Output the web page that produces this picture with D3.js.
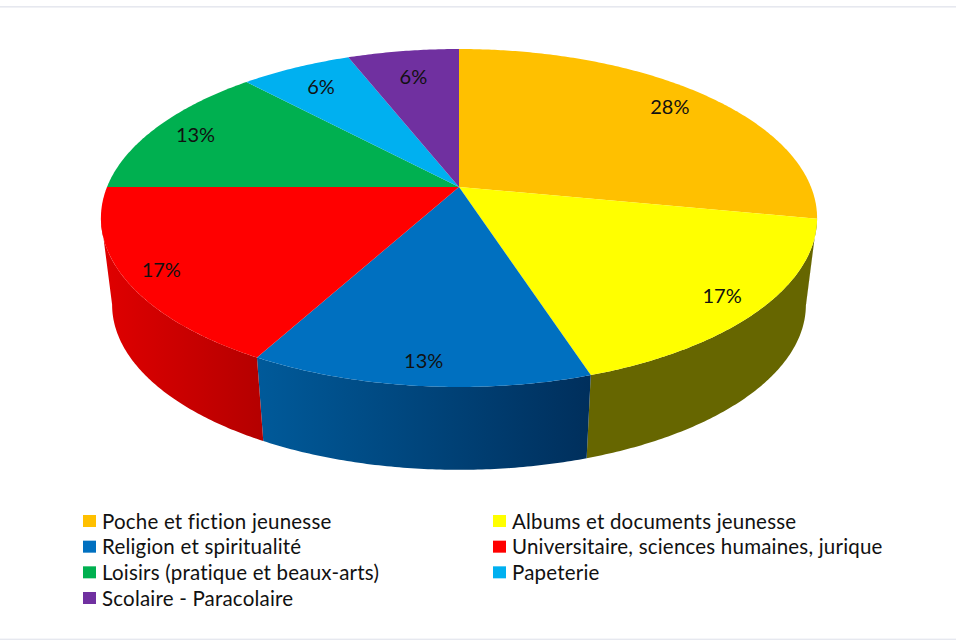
<!DOCTYPE html>
<html><head><meta charset="utf-8">
<script src="https://cdn.jsdelivr.net/npm/d3@7"></script>
<style>html,body{margin:0;padding:0;background:#fff;overflow:hidden}svg{display:block}text{font-family:Lato,"Open Sans",sans-serif;fill:#111;font-variant-ligatures:none}</style>
</head><body><svg id="c" width="956" height="640"></svg>
<script>
const categories=["Poche et fiction jeunesse","Albums et documents jeunesse","Religion et spiritualité","Universitaire, sciences humaines, jurique","Loisirs (pratique et beaux-arts)","Papeterie","Scolaire - Paracolaire"];
const shares=[28,17,13,17,13,6,6];
const topColors=["#FFC000","#FFFF00","#0070C0","#FF0000","#00B050","#00B0F0","#7030A0"];
const wallStops=[["#806000","#806000"],["#666600","#666600"],["#005A9A","#002F5C"],["#E00000","#B40000"],["#005828","#005828"],["#005878","#005878"],["#381850","#381850"]];
const labelReach=[.855,.889,.893,.9,.867,.825,.79];

const svg=d3.select("#c");
const persp=.1834;
const topPlane={cx:459,cy:187,a:352,b:163.3};
const basePlane={cx:459,cy:274.5,a:341,b:159.5};
const project=(p,theta,r=1)=>{
  const u=r*Math.sin(theta),v=r*Math.cos(theta),w=1+persp*v;
  return [p.cx+p.a*u/w,p.cy-p.b*v/w];
};
const arcPts=(p,a0,a1)=>{
  const n=Math.max(2,Math.ceil(Math.abs(a1-a0)/.01));
  return d3.range(n+1).map(i=>project(p,a0+(a1-a0)*i/n));
};
const line=d3.line().curve(d3.curveLinear);
const pie=d3.pie().sort(null).value(d=>d).startAngle(0).endAngle(2*Math.PI);
const arcs=pie(shares);

svg.append("rect").attr("x",0).attr("y",6).attr("width",956).attr("height",1.6).attr("fill","#E6E8EF");
svg.append("rect").attr("x",0).attr("y",638.6).attr("width",956).attr("height",1.4).attr("fill","#E6E8EF");

const defs=svg.append("defs");
const tangent=Math.acos(-persp);
const frontStart=tangent,frontEnd=2*Math.PI-tangent;
arcs.forEach((d,i)=>{
  const a0=Math.max(d.startAngle,frontStart),a1=Math.min(d.endAngle,frontEnd);
  if(a1<=a0)return;
  const t=arcPts(topPlane,a0,a1),b=arcPts(basePlane,a0,a1);
  const xs=d3.extent(t.concat(b),q=>q[0]);
  const g=defs.append("linearGradient").attr("id","w"+i).attr("gradientUnits","userSpaceOnUse")
    .attr("x1",xs[0]).attr("x2",xs[1]).attr("y1",0).attr("y2",0);
  g.append("stop").attr("offset",0).attr("stop-color",wallStops[i][0]);
  g.append("stop").attr("offset",1).attr("stop-color",wallStops[i][1]);
  svg.append("path").attr("d",line(t.concat(b.reverse()))+"Z").attr("fill",`url(#w${i})`);
});
arcs.forEach((d,i)=>{
  const pts=[project(topPlane,0,0)].concat(arcPts(topPlane,d.startAngle,d.endAngle));
  svg.append("path").attr("d",line(pts)+"Z").attr("fill",topColors[i]);
});
arcs.forEach((d,i)=>{
  const m=(d.startAngle+d.endAngle)/2,q=project(topPlane,m,labelReach[i]);
  svg.append("text").attr("x",q[0]).attr("y",q[1]).attr("text-anchor","middle").attr("dominant-baseline","central")
    .attr("font-size",20).text(Math.round(d.value)+"%");
});
const col=d3.scalePoint().domain([0,1]).range([83,493]);
const row=d3.scaleLinear().domain([0,3]).range([521,598]);
categories.forEach((c,i)=>{
  const x=col(i%2),y=row(Math.floor(i/2));
  svg.append("rect").attr("x",x).attr("y",y-6).attr("width",13).attr("height",12).attr("fill",topColors[i]);
  svg.append("text").attr("x",x+19).attr("y",y-.5).attr("dominant-baseline","central").attr("font-size",20.5).attr("letter-spacing",.2).text(c);
});
</script></body></html>
